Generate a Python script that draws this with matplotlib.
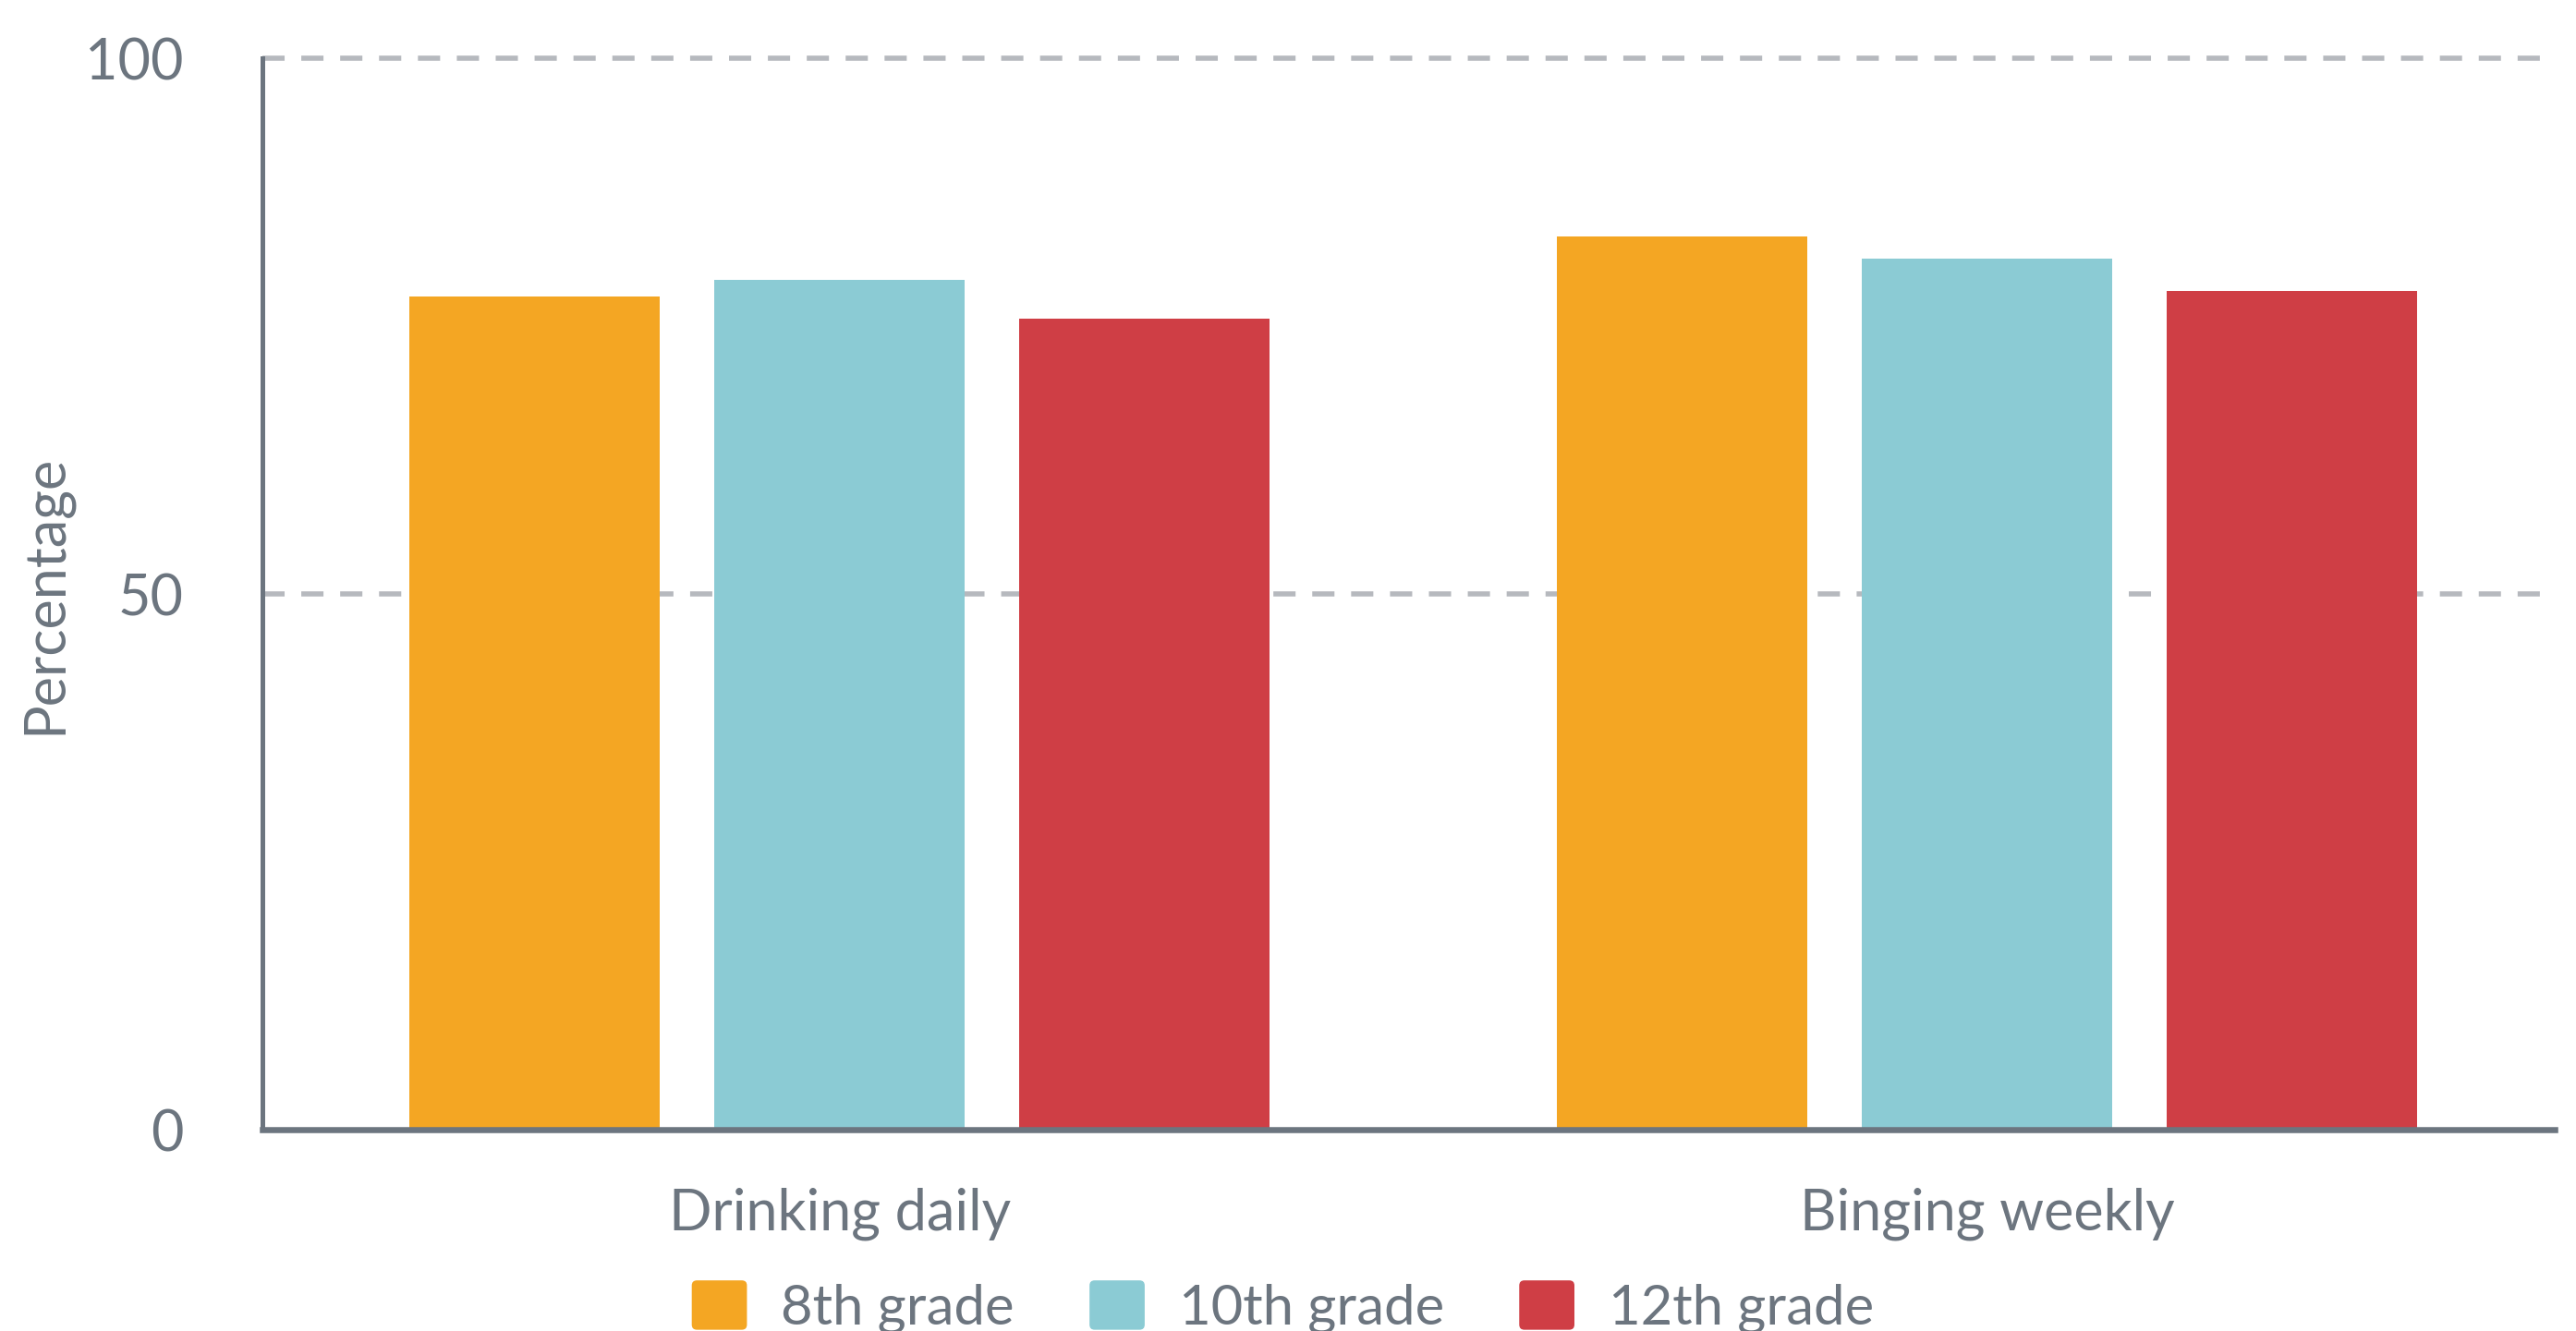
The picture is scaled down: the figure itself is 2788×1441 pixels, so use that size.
import matplotlib
matplotlib.use('Agg')
from matplotlib import pyplot as plt
from matplotlib.patches import FancyBboxPatch
from matplotlib.legend_handler import HandlerPatch
import numpy as np

categories = ['Drinking daily', 'Binging weekly']
grades = ['8th grade', '10th grade', '12th grade']
grade_8 = [77.8, 83.4]
grade_10 = [79.3, 81.3]
grade_12 = [75.7, 78.3]
y_ticks = [0, 50, 100]

colors = ['#F4A623', '#8BCBD4', '#CF3E45']
text_gray = '#6C757F'
axis_gray = '#6C757F'
grid_gray = '#B6B9BE'

plt.rcParams['font.family'] = ['Lato', 'DejaVu Sans']
plt.rcParams['lines.scale_dashes'] = False


class RoundHandler(HandlerPatch):
    def create_artists(self, legend, orig_handle, xdescent, ydescent,
                       width, height, fontsize, trans):
        p = FancyBboxPatch((-xdescent, -ydescent), width, height,
                           boxstyle='round,pad=0,rounding_size=4',
                           fc=orig_handle.get_facecolor(), ec='none',
                           transform=trans)
        return [p]


fig = plt.figure(figsize=(27.88, 14.41), dpi=100)
ax = fig.add_axes([0.10204, 0.15128, 0.8897, 0.80500])

x = np.arange(len(categories))
w = 0.2183
off = 0.2658
bars = []
for i, vals in enumerate([grade_8, grade_10, grade_12]):
    b = ax.bar(x + (i - 1) * off, vals, w, color=colors[i], label=grades[i], zorder=2)
    bars.append(b)

ax.set_xlim(-0.503, 1.495)
ax.set_ylim(0, 100)
ax.set_yticks(y_ticks)
ax.set_yticklabels([str(v) for v in y_ticks])
ax.set_xticks(x)
ax.set_xticklabels(categories)

ax.set_axisbelow(True)
ax.yaxis.grid(True, color=grid_gray, linewidth=4, linestyle=(0, (17.3, 13)))
for gl in ax.get_ygridlines():
    gl.set_clip_on(False)
ax.get_ygridlines()[0].set_visible(False)

for s in ['top', 'right']:
    ax.spines[s].set_visible(False)
ax.spines['left'].set_color(axis_gray)
ax.spines['left'].set_linewidth(3.6)
ax.spines['bottom'].set_color(axis_gray)
ax.spines['bottom'].set_linewidth(4.7)
ax.spines['bottom'].set_zorder(3)

ax.tick_params(axis='y', length=0, pad=62, labelsize=44, labelcolor=text_gray)
ax.tick_params(axis='x', length=0, pad=45, labelsize=44, labelcolor=text_gray)

ax.set_ylabel('Percentage', fontsize=44, color=text_gray)
ax.yaxis.set_label_coords(-0.0835, 0.5)

handles = [b.patches[0] for b in bars]
fig.legend(handles, grades, loc='lower center', bbox_to_anchor=(0.498, -0.002),
           ncol=3, frameon=False, fontsize=43, labelcolor=text_gray,
           handlelength=1.0, handleheight=1.0, handletextpad=0.62,
           columnspacing=1.36, borderpad=0, borderaxespad=0,
           handler_map={matplotlib.patches.Rectangle: RoundHandler()})

fig.savefig('out.png', dpi=100, facecolor='white')
